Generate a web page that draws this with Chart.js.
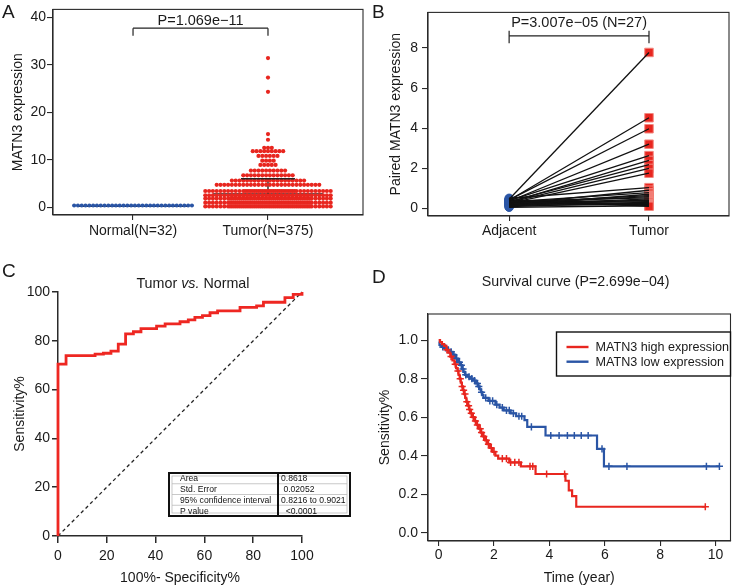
<!DOCTYPE html>
<html>
<head>
<meta charset="utf-8">
<title>MATN3 figure</title>
<script src="https://cdn.jsdelivr.net/npm/chart.js@4.4.1/dist/chart.umd.min.js"></script>
<style>
  html, body { margin:0; padding:0; background:#fff; }
  #fig { position:relative; width:736px; height:588px; background:#fff; overflow:hidden; }
  #fig canvas { position:absolute; }
</style>
</head>
<body>
<div id="fig">
  <canvas id="chartA" width="368" height="250" style="left:0px;top:0px;"></canvas>
  <canvas id="chartB" width="368" height="250" style="left:368px;top:0px;"></canvas>
  <canvas id="chartC" width="368" height="338" style="left:0px;top:250px;"></canvas>
  <canvas id="chartD" width="368" height="338" style="left:368px;top:250px;"></canvas>
</div>
<script>
// ================= DATA =================
// ---- Panel A : MATN3 expression, Normal vs Tumor ----
const groupsA = ['Normal(N=32)', 'Tumor(N=375)'];
const ticksAy = [0, 10, 20, 30, 40];
const normalValues = [
  0.35,0.35,0.35,0.35,0.35,0.35,0.35,0.35,
  0.35,0.35,0.35,0.35,0.35,0.35,0.35,0.35,
  0.35,0.35,0.35,0.35,0.35,0.35,0.35,0.35,
  0.35,0.35,0.35,0.35,0.35,0.35,0.35,0.35
];
const tumorValues = [
  0.15,0.15,0.15,0.15,0.15,0.15,0.15,0.15,
  0.15,0.15,0.15,0.15,0.15,0.15,0.15,0.15,
  0.15,0.15,0.15,0.15,0.15,0.15,0.15,0.15,
  0.15,0.15,0.15,0.15,0.15,0.15,0.15,0.15,
  0.15,0.15,0.15,0.15,0.15,0.15,0.15,0.15,
  0.15,0.15,0.15,0.15,0.15,0.15,0.15,0.15,
  0.15,0.15,0.15,0.15,0.15,0.15,0.15,0.15,
  0.95,0.95,0.95,0.95,0.95,0.95,0.95,0.95,
  0.95,0.95,0.95,0.95,0.95,0.95,0.95,0.95,
  0.95,0.95,0.95,0.95,0.95,0.95,0.95,0.95,
  0.95,0.95,0.95,0.95,0.95,0.95,0.95,0.95,
  0.95,0.95,0.95,0.95,0.95,0.95,0.95,0.95,
  0.95,0.95,0.95,0.95,0.95,0.95,0.95,0.95,
  0.95,0.95,0.95,0.95,0.95,0.95,0.95,0.95,
  1.8,1.8,1.8,1.8,1.8,1.8,1.8,1.8,
  1.8,1.8,1.8,1.8,1.8,1.8,1.8,1.8,
  1.8,1.8,1.8,1.8,1.8,1.8,1.8,1.8,
  1.8,1.8,1.8,1.8,1.8,1.8,1.8,1.8,
  1.8,1.8,1.8,1.8,1.8,1.8,1.8,1.8,
  1.8,1.8,1.8,1.8,1.8,1.8,1.8,1.8,
  1.8,1.8,1.8,1.8,1.8,1.8,1.8,1.8,
  2.5,2.5,2.5,2.5,2.5,2.5,2.5,2.5,
  2.5,2.5,2.5,2.5,2.5,2.5,2.5,2.5,
  2.5,2.5,2.5,2.5,2.5,2.5,2.5,2.5,
  2.5,2.5,2.5,2.5,2.5,2.5,2.5,2.5,
  2.5,2.5,2.5,2.5,2.5,2.5,2.5,2.5,
  2.5,2.5,2.5,2.5,2.5,2.5,2.5,2.5,
  2.5,2.5,2.5,2.5,2.5,2.5,2.5,
  3.4,3.4,3.4,3.4,3.4,3.4,3.4,3.4,
  3.4,3.4,3.4,3.4,3.4,3.4,3.4,3.4,
  3.4,3.4,3.4,3.4,3.4,3.4,3.4,3.4,
  3.4,3.4,3.4,3.4,3.4,3.4,3.4,3.4,
  3.4,3.4,3.4,3.4,3.4,3.4,3.4,3.4,
  3.4,3.4,3.4,3.4,3.4,3.4,3.4,3.4,
  4.7,4.7,4.7,4.7,4.7,4.7,4.7,4.7,
  4.7,4.7,4.7,4.7,4.7,4.7,4.7,4.7,
  4.7,4.7,4.7,4.7,4.7,4.7,4.7,4.7,
  4.7,4.7,4.7,4.7,
  5.6,5.6,5.6,5.6,5.6,5.6,5.6,5.6,
  5.6,5.6,5.6,5.6,5.6,5.6,5.6,5.6,
  5.6,5.6,5.6,5.6,
  6.7,6.7,6.7,6.7,6.7,6.7,6.7,6.7,
  6.7,6.7,6.7,6.7,6.7,6.7,
  7.7,7.7,7.7,7.7,7.7,7.7,7.7,7.7,
  7.7,7.7,
  8.9,8.9,8.9,8.9,8.9,
  9.8,9.8,9.8,9.8,
  10.8,10.8,10.8,10.8,10.8,10.8,
  11.8,11.8,11.8,11.8,11.8,11.8,11.8,11.8,11.8,
  12.5,12.5,12.5,
  14.2, 15.4, 24.3, 27.3, 31.4
];
const meanA = [0.2, 2.8];      // group mean lines
const sdTopA = [0.45, 6.0];    // mean + SD
const bracketA = { top: 37.7, bottom: 36.1 };
const pTextA = 'P=1.069e\u221211';

// ---- Panel B : paired samples ----
const groupsB = ['Adjacent', 'Tumor'];
const ticksBy = [0, 2, 4, 6, 8];
const adjacentValues = [0.45, 0.40, 0.42, 0.35, 0.38, 0.30, 0.33, 0.28, 0.25, 0.50, 0.20, 0.32, 0.15, 0.27,
                        0.22, 0.36, 0.18, 0.12, 0.30, 0.25, 0.08, 0.20, 0.28, 0.15, 0.35, 0.05, 0.40];
const pairedTumorValues = [7.78, 4.52, 3.97, 3.20, 2.63, 2.39, 2.18, 1.99, 1.75, 1.03, 0.90, 0.78, 0.70, 0.63,
                           0.58, 0.52, 0.47, 0.42, 0.38, 0.33, 0.30, 0.25, 0.22, 0.18, 0.15, 0.12, 0.10];
const bracketB = { y: 8.61, tickTop: 8.87, tickBottom: 8.24 };
const pTextB = 'P=3.007e\u221205 (N=27)';

// ---- Panel C : ROC ----
const ticksC = [0, 20, 40, 60, 80, 100];
const rocFpr = [0, 0, 3.3, 15.2, 18.6, 21.7, 24.7, 27.7, 30.9, 34.0, 40.4, 43.9, 50.0, 53.4, 56.1, 59.2,
                62.3, 65.4, 74.6, 81.4, 84.2, 93.0, 96.4, 100];
const rocTpr = [0, 70.4, 73.9, 74.5, 74.9, 75.8, 78.6, 82.8, 83.7, 85.0, 86.0, 86.9, 87.8, 88.6, 89.6, 90.3,
                91.5, 92.3, 93.7, 94.3, 95.8, 97.7, 99.0, 100];
const rocTableLabels = ['Area', 'Std. Error', '95% confidence interval', 'P value'];
const rocTableValues = ['0.8618', ' 0.02052', '0.8216 to 0.9021', '  <0.0001'];

// ---- Panel D : Kaplan-Meier ----
const ticksDx = [0, 2, 4, 6, 8, 10];
const ticksDy = [0, 0.2, 0.4, 0.6, 0.8, 1.0];
const kmLabels = ['MATN3 high expression', 'MATN3 low expression'];
const kmHighTime = [0, 0.05, 0.12, 0.2, 0.28, 0.35, 0.42, 0.5, 0.57, 0.63, 0.68, 0.72, 0.76, 0.8, 0.84, 0.88,
                    0.92, 0.96, 1.0, 1.05, 1.1, 1.15, 1.22, 1.3, 1.38, 1.45, 1.52, 1.6, 1.68, 1.76, 1.85, 1.95,
                    2.05, 2.15, 2.55, 2.97, 3.5, 4.58, 4.7, 4.82, 4.97, 9.63];
const kmHighSurv = [1.0, 0.99, 0.98, 0.97, 0.95, 0.935, 0.915, 0.895, 0.875, 0.855, 0.84, 0.82, 0.80, 0.78, 0.76, 0.74,
                    0.72, 0.70, 0.68, 0.66, 0.64, 0.62, 0.60, 0.58, 0.56, 0.54, 0.52, 0.50, 0.48, 0.46, 0.44, 0.42,
                    0.40, 0.385, 0.365, 0.345, 0.305, 0.27, 0.22, 0.19, 0.135, 0.135];
const kmHighCensor = [0.3, 0.45, 0.6, 0.7, 0.78, 0.85, 0.9, 0.95, 1.02, 1.08, 1.12, 1.18, 1.25, 1.33, 1.4, 1.5,
                      1.55, 1.63, 1.72, 1.8, 1.9, 2.0, 2.3, 2.45, 2.6, 2.75, 2.9, 3.3, 3.4, 3.9, 4.55, 9.63];
const kmLowTime = [0, 0.03, 0.1, 0.2, 0.3, 0.4, 0.5, 0.6, 0.7, 0.78, 0.85, 0.9, 0.95, 1.05, 1.15, 1.25, 1.35,
                   1.42, 1.48, 1.53, 1.58, 1.62, 1.8, 2.05, 2.2, 2.35, 2.6, 2.8, 3.1, 3.2, 3.86, 5.72, 5.97, 10.14];
const kmLowSurv = [0.99, 0.975, 0.965, 0.96, 0.95, 0.94, 0.925, 0.905, 0.885, 0.87, 0.85, 0.835, 0.82, 0.81, 0.80,
                   0.79, 0.775, 0.76, 0.745, 0.73, 0.715, 0.70, 0.685, 0.665, 0.65, 0.635, 0.62, 0.605, 0.585,
                   0.55, 0.505, 0.435, 0.345, 0.345];
const kmLowCensor = [0.15, 0.25, 0.35, 0.45, 0.55, 0.65, 0.75, 0.82, 0.88, 0.98, 1.1, 1.2, 1.3, 1.4, 1.45, 1.55,
                     1.7, 1.85, 1.95, 2.1, 2.3, 2.45, 2.55, 2.7, 2.9, 3.0, 3.35, 4.05, 4.35, 4.65, 4.9, 5.15,
                     5.4, 5.9, 6.15, 6.8, 9.67, 10.14];

// ================= STYLE / HELPERS =================
const RED = '#e8261f';
const BLUE = '#2a55a5';
const INK = '#1a1a1a';
const AXIS = '#2a2a2a';
const FONT = '"Liberation Sans", Arial, Helvetica, sans-serif';

Chart.defaults.font.family = FONT;
Chart.defaults.font.size = 14;
Chart.defaults.color = INK;
Chart.defaults.animation = false;
Chart.defaults.events = [];
Chart.defaults.plugins.legend.display = false;
Chart.defaults.plugins.tooltip.enabled = false;

function axis(o) {
  return {
    type: 'linear', min: o.min, max: o.max,
    afterBuildTicks: s => { s.ticks = o.ticks.map(v => ({ value: v })); },
    afterFit: s => { if (o.width != null) s.width = o.width; if (o.height != null) s.height = o.height; },
    ticks: { callback: o.fmt, padding: o.pad, autoSkip: false, maxRotation: 0, minRotation: 0,
             color: INK, font: { size: 14 } },
    grid: { drawOnChartArea: false, drawTicks: true, tickLength: o.tl, color: AXIS, lineWidth: o.lw || 1.1 },
    border: { display: true, color: AXIS, width: o.lw || 1.1 },
    title: o.title ? { display: true, text: o.title, color: INK, font: { size: 14 }, padding: o.titlePad }
                   : { display: false }
  };
}

function seg(x1, y1, x2, y2, order, color, width) {
  return { data: [{ x: x1, y: y1 }, { x: x2, y: y2 }], showLine: true, borderColor: color || '#222',
           borderWidth: width || 1.4, pointRadius: 0, order: order, clip: false };
}

// beeswarm-like layout (center method, rows wrapped at a maximum width)
function swarm(values, center, stepUnits, slots) {
  const rows = new Map();
  values.forEach(v => { if (!rows.has(v)) rows.set(v, 0); rows.set(v, rows.get(v) + 1); });
  const out = [];
  rows.forEach((n, v) => {
    for (let p = 0; p * slots < n; p++) {
      const c = Math.min(slots, n - p * slots);
      const shift = (p % 2) ? stepUnits / 2 : 0;
      for (let j = 0; j < c; j++) out.push({ x: center + (j - (c - 1) / 2) * stepUnits + shift, y: v });
    }
  });
  return out;
}

// expand a step function (horizontal first, then vertical)
function steps(xs, ys) {
  const out = [{ x: xs[0], y: ys[0] }];
  for (let i = 1; i < xs.length; i++) {
    out.push({ x: xs[i], y: ys[i - 1] });
    out.push({ x: xs[i], y: ys[i] });
  }
  return out;
}
function survAt(times, surv, t) {
  let s = surv[0];
  for (let i = 0; i < times.length; i++) if (times[i] <= t) s = surv[i];
  return s;
}

function framePlugin() {
  return { id: 'frame', afterDatasetsDraw(chart) {
    const a = chart.chartArea, c = chart.ctx;
    c.save(); c.strokeStyle = AXIS; c.lineWidth = 1.1;
    c.strokeRect(a.left, a.top, a.right - a.left, a.bottom - a.top);
    c.restore();
  } };
}
function letterPlugin(letter, x, y) {
  return { id: 'letter', afterDraw(chart) {
    const c = chart.ctx; c.save();
    c.font = '19px ' + FONT; c.fillStyle = INK; c.textBaseline = 'alphabetic'; c.textAlign = 'left';
    c.fillText(letter, x, y); c.restore();
  } };
}

// ================= PANEL A =================
const A_XMIN = 0.407, A_XMAX = 2.704;
const A_PX_PER_UNIT = 310 / (A_XMAX - A_XMIN);
const A_STEP = 3.8 / A_PX_PER_UNIT;
new Chart(document.getElementById('chartA'), {
  type: 'scatter',
  data: { datasets: [
    seg(1 - 0.4, meanA[0], 1 + 0.4, meanA[0], 5),
    seg(2 - 0.41, meanA[1], 2 + 0.41, meanA[1], 5),
    seg(2, meanA[1], 2, sdTopA[1], 5),
    { data: swarm(normalValues, 1, A_STEP, 34), pointRadius: 2.05, backgroundColor: BLUE, borderWidth: 0, order: 3 },
    { data: swarm(tumorValues, 2, A_STEP, 34), pointRadius: 2.1, backgroundColor: RED, borderWidth: 0, order: 3 },
    seg(2 - 0.2, sdTopA[1], 2 + 0.2, sdTopA[1], 1),
    seg(1, bracketA.bottom, 1, bracketA.top, 1, '#222', 1.2),
    seg(1, bracketA.top, 2, bracketA.top, 1, '#222', 1.2),
    seg(2, bracketA.top, 2, bracketA.bottom, 1, '#222', 1.2)
  ] },
  options: {
    responsive: false,
    layout: { padding: { left: 0, right: 5, top: 5, bottom: 0 } },
    scales: {
      x: axis({ min: A_XMIN, max: A_XMAX, ticks: [1, 2], fmt: v => groupsA[Math.round(v) - 1],
                tl: 5, pad: 3, height: 35 }),
      y: axis({ min: -1.65, max: 41.65, ticks: ticksAy, fmt: v => String(v), tl: 6, pad: 1, width: 53,
                title: 'MATN3 expression', titlePad: { top: 9.6, bottom: 0 } })
    }
  },
  plugins: [framePlugin(), letterPlugin('A', 2, 18), { id: 'pA', afterDraw(chart) {
    const c = chart.ctx, xs = chart.scales.x, ys = chart.scales.y;
    c.save(); c.font = '14.5px ' + FONT; c.fillStyle = INK; c.textAlign = 'center'; c.textBaseline = 'alphabetic';
    c.fillText(pTextA, xs.getPixelForValue(1.5), ys.getPixelForValue(bracketA.top) - 3.5);
    c.restore();
  } }]
});

// ================= PANEL B =================
const pairLines = adjacentValues.map((a, i) => ({
  data: [{ x: 1, y: a }, { x: 2, y: pairedTumorValues[i] }], showLine: true, borderColor: '#111',
  borderWidth: 1.3, pointRadius: 0, order: 1, clip: false
}));
new Chart(document.getElementById('chartB'), {
  type: 'scatter',
  data: { datasets: [
    { data: adjacentValues.map(v => ({ x: 1, y: v })), pointStyle: 'circle', pointRadius: 4.2,
      backgroundColor: BLUE, borderColor: BLUE, borderWidth: 1, order: 3 },
    { data: pairedTumorValues.map(v => ({ x: 2, y: v })), pointStyle: 'rect', pointRadius: 6,
      backgroundColor: RED, borderColor: '#f3877f', borderWidth: 1, order: 2 },
    ...pairLines,
    seg(1, bracketB.tickTop, 1, bracketB.tickBottom, 0, '#222', 1.2),
    seg(1, bracketB.y, 2, bracketB.y, 0, '#222', 1.2),
    seg(2, bracketB.tickTop, 2, bracketB.tickBottom, 0, '#222', 1.2)
  ] },
  options: {
    responsive: false,
    layout: { padding: { left: 0, right: 4, top: 5, bottom: 0 } },
    scales: {
      x: axis({ min: 0.42, max: 2.572, ticks: [1, 2], fmt: v => groupsB[Math.round(v) - 1],
                tl: 5, pad: 2, height: 34 }),
      y: axis({ min: -0.386, max: 9.78, ticks: ticksBy, fmt: v => String(v), tl: 6, pad: 4, width: 60,
                title: 'Paired MATN3 expression', titlePad: { top: 19.3, bottom: 0 } })
    }
  },
  plugins: [framePlugin(), letterPlugin('B', 4, 18), { id: 'pB', afterDraw(chart) {
    const c = chart.ctx, xs = chart.scales.x, ys = chart.scales.y;
    c.save(); c.font = '14.5px ' + FONT; c.fillStyle = INK; c.textAlign = 'center'; c.textBaseline = 'alphabetic';
    c.fillText(pTextB, xs.getPixelForValue(1.5), ys.getPixelForValue(bracketB.y) - 8.6);
    c.restore();
  } }]
});

// ================= PANEL C =================
new Chart(document.getElementById('chartC'), {
  type: 'scatter',
  data: { datasets: [
    { data: [{ x: 0, y: 0 }, { x: 100, y: 100 }], showLine: true, borderColor: '#222', borderWidth: 1.3,
      borderDash: [3.5, 3], pointRadius: 0, order: 2, clip: false },
    { data: steps(rocFpr, rocTpr), showLine: true, borderColor: '#ee2722', borderWidth: 2.8, pointRadius: 0,
      order: 1, clip: false, borderJoinStyle: 'miter' }
  ] },
  options: {
    responsive: false,
    layout: { padding: { left: 0, right: 66, top: 42, bottom: 0 } },
    scales: {
      x: axis({ min: 0, max: 100, ticks: ticksC, fmt: v => String(v), tl: 7, pad: 5, height: 52, lw: 1.5,
                title: '100%- Specificity%', titlePad: { top: 0, bottom: 1.6 } }),
      y: axis({ min: 0, max: 100, ticks: ticksC, fmt: v => String(v), tl: 6, pad: 2, width: 58, lw: 1.5,
                title: 'Sensitivity%', titlePad: { top: 11.6, bottom: 0 } })
    }
  },
  plugins: [letterPlugin('C', 2, 27), { id: 'cText', afterDraw(chart) {
    const c = chart.ctx, a = chart.chartArea;
    c.save();
    // title with italic "vs."
    const parts = [['Tumor ', ''], ['vs.', 'italic '], [' Normal', '']];
    let total = 0;
    parts.forEach(p => { c.font = p[1] + '14.3px ' + FONT; total += c.measureText(p[0]).width; });
    let x = a.left + (a.right - a.left) * 0.553 - total / 2;
    c.fillStyle = INK; c.textBaseline = 'alphabetic'; c.textAlign = 'left';
    parts.forEach(p => { c.font = p[1] + '14.3px ' + FONT; c.fillText(p[0], x, a.top - 4); x += c.measureText(p[0]).width; });
    // statistics table
    const tx = a.left + 111, ty = a.top + 181, tw = 181, th = 43, split = 109, rh = th / 4;
    c.fillStyle = '#fff'; c.fillRect(tx, ty, tw, th);
    c.strokeStyle = '#bbb'; c.lineWidth = 0.8;
    for (let i = 1; i < 4; i++) { c.beginPath(); c.moveTo(tx + 3, ty + i * rh); c.lineTo(tx + tw - 3, ty + i * rh); c.stroke(); }
    c.strokeRect(tx + 3, ty + 3, tw - 6, th - 6);
    c.strokeStyle = '#111'; c.lineWidth = 2;
    c.strokeRect(tx, ty, tw, th);
    c.beginPath(); c.moveTo(tx + split, ty); c.lineTo(tx + split, ty + th); c.stroke();
    c.font = '8.6px ' + FONT; c.fillStyle = '#111'; c.textBaseline = 'middle';
    rocTableLabels.forEach((t, i) => c.fillText(t, tx + 11, ty + rh * (i + 0.5) + 0.5));
    rocTableValues.forEach((t, i) => c.fillText(t, tx + split + 3, ty + rh * (i + 0.5) + 0.5));
    c.restore();
  } }]
});

// ================= PANEL D =================
new Chart(document.getElementById('chartD'), {
  type: 'scatter',
  data: { datasets: [
    { label: kmLabels[1], data: steps(kmLowTime, kmLowSurv), showLine: true, borderColor: BLUE, borderWidth: 2.2,
      pointRadius: 0, order: 2 },
    { label: kmLabels[0], data: steps(kmHighTime, kmHighSurv), showLine: true, borderColor: RED, borderWidth: 2.2,
      pointRadius: 0, order: 1 },
    { data: kmLowCensor.map(t => ({ x: t, y: survAt(kmLowTime, kmLowSurv, t) })), pointStyle: 'cross',
      pointRadius: 3.6, borderColor: BLUE, borderWidth: 1.5, order: 2 },
    { data: kmHighCensor.map(t => ({ x: t, y: survAt(kmHighTime, kmHighSurv, t) })), pointStyle: 'cross',
      pointRadius: 3.6, borderColor: RED, borderWidth: 1.5, order: 1 }
  ] },
  options: {
    responsive: false,
    layout: { padding: { left: 0, right: 3, top: 64, bottom: 0 } },
    scales: {
      x: axis({ min: -0.384, max: 10.54, ticks: ticksDx, fmt: v => String(v), tl: 5, pad: 1, height: 47,
                title: 'Time (year)', titlePad: { top: 0, bottom: 1.6 } }),
      y: axis({ min: -0.043, max: 1.136, ticks: ticksDy, fmt: v => v.toFixed(1), tl: 7, pad: 3, width: 60,
                title: 'Sensitivity%', titlePad: { top: 8.6, bottom: 0 } })
    }
  },
  plugins: [framePlugin(), letterPlugin('D', 4, 33), { id: 'dText', afterDraw(chart) {
    const c = chart.ctx, a = chart.chartArea;
    c.save();
    c.font = '14.2px ' + FONT; c.fillStyle = INK; c.textAlign = 'center'; c.textBaseline = 'alphabetic';
    c.fillText('Survival curve (P=2.699e\u221204)', a.left + (a.right - a.left) * 0.488, 36);
    // legend
    const bw = 174, bh = 44, bx = a.right - bw, by = a.top + 18;
    c.fillStyle = '#fff'; c.fillRect(bx, by, bw, bh);
    c.strokeStyle = '#111'; c.lineWidth = 1.4; c.strokeRect(bx, by, bw, bh);
    const entries = [[kmLabels[0], RED], [kmLabels[1], BLUE]];
    c.font = '12.6px ' + FONT; c.textAlign = 'left'; c.textBaseline = 'middle';
    entries.forEach((e, i) => {
      const yy = by + 15 + i * 14.7;
      c.strokeStyle = e[1]; c.lineWidth = 2.4;
      c.beginPath(); c.moveTo(bx + 10, yy); c.lineTo(bx + 32, yy); c.stroke();
      c.fillStyle = INK; c.fillText(e[0], bx + 39, yy + 0.5);
    });
    c.restore();
  } }]
});
</script>
</body>
</html>
